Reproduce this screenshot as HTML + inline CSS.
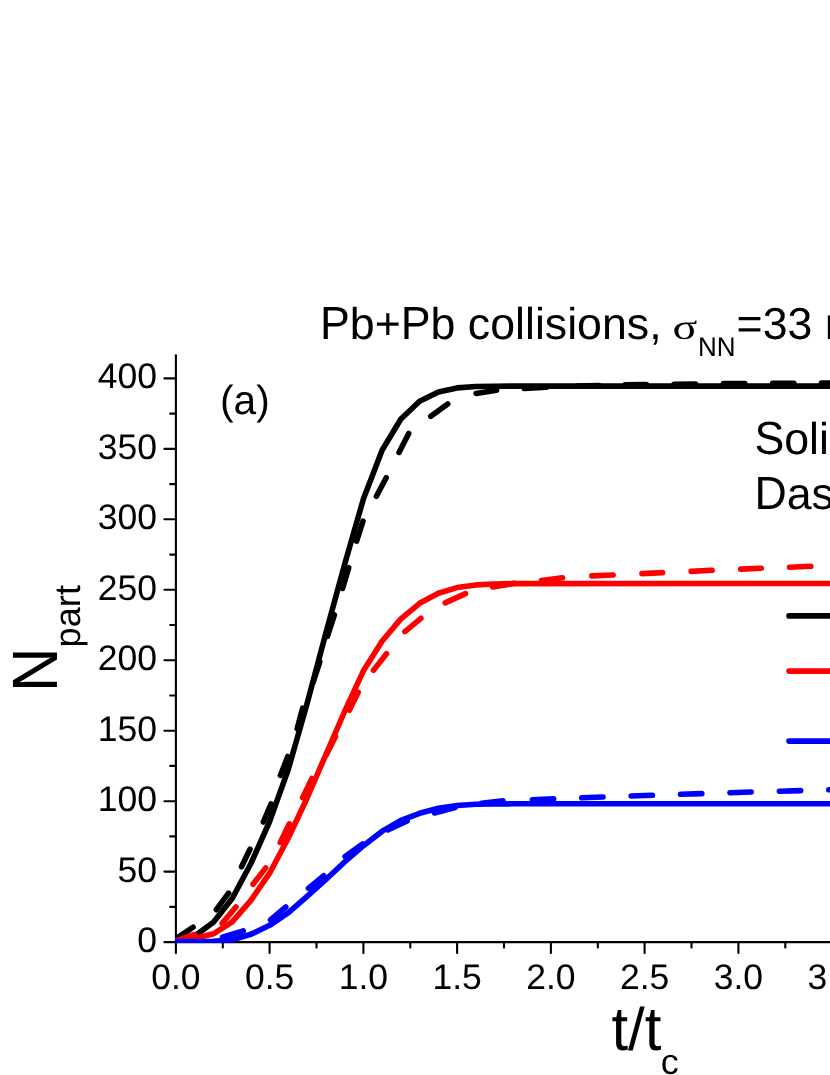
<!DOCTYPE html>
<html><head><meta charset="utf-8"><title>Npart vs t/tc</title>
<style>
html,body{margin:0;padding:0;background:#fff;}
body{width:830px;height:1075px;overflow:hidden;}
svg{display:block;will-change:transform;}
text{text-rendering:geometricPrecision;}
text{font-family:"Liberation Sans",sans-serif;fill:#000;}
.ser{font-family:"Liberation Serif",serif;}
</style></head><body>
<svg width="830" height="1075" viewBox="0 0 830 1075">
<rect x="0" y="0" width="830" height="1075" fill="#ffffff"/>
<defs><clipPath id="plot"><rect x="175.1" y="340" width="700" height="603"/></clipPath></defs>
<g stroke="#000" stroke-width="2.1" stroke-linecap="round" fill="none">
<line x1="175.9" y1="355.3" x2="175.9" y2="942.1"/>
<line x1="175.9" y1="942.1" x2="850" y2="942.1"/>
<line x1="164.4" y1="942.1" x2="175.9" y2="942.1"/>
<line x1="170.2" y1="906.9" x2="175.9" y2="906.9"/>
<line x1="164.4" y1="871.6" x2="175.9" y2="871.6"/>
<line x1="170.2" y1="836.4" x2="175.9" y2="836.4"/>
<line x1="164.4" y1="801.2" x2="175.9" y2="801.2"/>
<line x1="170.2" y1="765.9" x2="175.9" y2="765.9"/>
<line x1="164.4" y1="730.7" x2="175.9" y2="730.7"/>
<line x1="170.2" y1="695.5" x2="175.9" y2="695.5"/>
<line x1="164.4" y1="660.2" x2="175.9" y2="660.2"/>
<line x1="170.2" y1="625" x2="175.9" y2="625"/>
<line x1="164.4" y1="589.8" x2="175.9" y2="589.8"/>
<line x1="170.2" y1="554.6" x2="175.9" y2="554.6"/>
<line x1="164.4" y1="519.3" x2="175.9" y2="519.3"/>
<line x1="170.2" y1="484.1" x2="175.9" y2="484.1"/>
<line x1="164.4" y1="448.9" x2="175.9" y2="448.9"/>
<line x1="170.2" y1="413.6" x2="175.9" y2="413.6"/>
<line x1="164.4" y1="378.4" x2="175.9" y2="378.4"/>
<line x1="175.9" y1="942.1" x2="175.9" y2="953.1"/>
<line x1="222.8" y1="942.1" x2="222.8" y2="947.6"/>
<line x1="269.6" y1="942.1" x2="269.6" y2="953.1"/>
<line x1="316.5" y1="942.1" x2="316.5" y2="947.6"/>
<line x1="363.4" y1="942.1" x2="363.4" y2="953.1"/>
<line x1="410.3" y1="942.1" x2="410.3" y2="947.6"/>
<line x1="457.1" y1="942.1" x2="457.1" y2="953.1"/>
<line x1="504" y1="942.1" x2="504" y2="947.6"/>
<line x1="550.9" y1="942.1" x2="550.9" y2="953.1"/>
<line x1="597.8" y1="942.1" x2="597.8" y2="947.6"/>
<line x1="644.6" y1="942.1" x2="644.6" y2="953.1"/>
<line x1="691.5" y1="942.1" x2="691.5" y2="947.6"/>
<line x1="738.4" y1="942.1" x2="738.4" y2="953.1"/>
<line x1="785.3" y1="942.1" x2="785.3" y2="947.6"/>
<line x1="832.1" y1="942.1" x2="832.1" y2="953.1"/>
</g>
<g clip-path="url(#plot)" fill="none" stroke-width="5.6" stroke-linejoin="round">
<polyline points="169.9,939.7 175.9,938.8 194.7,936 213.4,922.3 232.2,898.5 250.9,863.5 269.6,821.5 288.4,769 307.1,703.5 325.9,633 344.6,564.5 363.4,499 382.2,450 400.9,419 419.6,401.2 438.4,392.1 457.1,387.9 475.9,386.5 494.7,386.2 513.4,386.1 845,386.1" stroke="#000000" stroke-linecap="butt"/>
<path d="M170 942.9L193 927.2M216.3 909.7L228.6 893.2M241.5 866.7L250 849.2M263.3 822L271.1 803.9M280.4 775.4L287.8 756.5M297.2 728.6L302.7 708.1M313.1 682.4L319.8 662M327.4 636.3L334.4 615M342.6 588.5L348.7 567.6M356.6 541.1L363 521.2M376.4 496.2L386.2 477.7M399 452.4L408.7 433.4M430.8 416.3L447.7 403.9M476.1 393.4L496.6 390.2M524.4 388.5L546.2 387.3M577.5 386L598.8 385.6M625 384.8L646.3 384.5M674.2 384.2L695.5 384M723.5 383.6L744.8 383.5M772.6 383.3L793.9 383.2M821.4 383L842.7 382.9" stroke="#000000" stroke-linecap="round"/>
<polyline points="169.9,941.5 175.9,940.8 194.7,938.5 213.4,933.8 232.2,921.9 250.9,900.4 269.6,873.2 288.4,837.7 307.1,798 325.9,754.6 344.6,711.5 363.4,670.8 382.2,641 400.9,618.9 419.6,603.3 438.4,593.2 457.1,587.6 475.9,584.9 494.7,584 513.4,583.6 845,583.5" stroke="#ff0000" stroke-linecap="butt"/>
<path d="M170 943L194.5 934.3M222.2 923.3L235.9 907M253 884.3L265.7 867.9M280.2 842.6L289.3 823.8M302.6 797.8L311.9 778.5M326.5 754.5L335.5 736.5M349.3 710.3L358.2 692.3M373.5 670.3L386.5 653.7M404.9 631.6L420.9 618.3M445.2 602.9L465.5 593.6M492.7 587L514.3 583.3M541.4 580.6L562.5 577.8M591.8 575.9L613.1 575M642 573.6L662.6 572.6M691.2 571.4L712.1 570.3M740.7 569.1L761.3 568.3M789.5 567.2L810.8 566.3" stroke="#ff0000" stroke-linecap="round"/>
<polyline points="169.9,941.5 175.9,941.5 194.7,941.5 213.4,941.2 232.2,939.8 250.9,934.3 269.6,925.3 288.4,912.7 307.1,896.4 325.9,879.5 344.6,862 363.4,845.7 382.2,831.2 400.9,820.4 419.6,813.3 438.4,808.2 457.1,805.5 475.9,804.3 494.7,804 513.4,803.8 845,803.8" stroke="#0000ff" stroke-linecap="butt"/>
<path d="M170 941.8L197 941.8M222.5 937.3L243.2 930.9M270.5 919.9L285.8 907M308.4 888.3L323.8 875.7M345.1 856.5L362.5 843.9M387.8 829.9L407.1 820.9M434.5 813L455 807.6M481.5 803.2L503 800.8M532.4 799.9L553.6 798.9M581.8 797.8L603 797M631.2 796L652.4 795.3M680.6 794.3L701.8 793.6M730 792.7L751.2 792M779.4 791.2L800.6 790.6M828.8 789.8L850 789.2" stroke="#0000ff" stroke-linecap="round"/>
</g>
<g stroke-width="5.6" stroke-linecap="round" fill="none">
<line x1="789" y1="615.9" x2="850" y2="615.9" stroke="#000"/>
<line x1="789" y1="671.1" x2="850" y2="671.1" stroke="#f00"/>
<line x1="789" y1="741.1" x2="850" y2="741.1" stroke="#00f"/>
</g>
<text transform="translate(320,338.7) scale(1,1.041)" font-size="44.7">P</text>
<text x="349.8" y="338.7" font-size="44.7">b+</text>
<text transform="translate(400.8,338.7) scale(1,1.041)" font-size="44.7">P</text>
<text x="430.6" y="338.7" font-size="44.7">b collisions,</text>
<text class="ser" transform="translate(672.6,338.9) scale(1.06,0.83)" font-size="43.5">σ</text>
<text transform="translate(698,355.8) scale(1,1.041)" font-size="26">NN</text>
<text x="736.6" y="338.8" font-size="44.7">=33 mb</text>
<text x="157" y="952.1" font-size="35.5" text-anchor="end">0</text>
<text x="157" y="881.6" font-size="35.5" text-anchor="end">50</text>
<text x="157" y="811.2" font-size="35.5" text-anchor="end">100</text>
<text x="157" y="740.7" font-size="35.5" text-anchor="end">150</text>
<text x="157" y="670.2" font-size="35.5" text-anchor="end">200</text>
<text x="157" y="599.8" font-size="35.5" text-anchor="end">250</text>
<text x="157" y="529.3" font-size="35.5" text-anchor="end">300</text>
<text x="157" y="458.9" font-size="35.5" text-anchor="end">350</text>
<text x="157" y="388.4" font-size="35.5" text-anchor="end">400</text>
<text x="175.9" y="988.7" font-size="35.5" text-anchor="middle">0.0</text>
<text x="269.6" y="988.7" font-size="35.5" text-anchor="middle">0.5</text>
<text x="363.4" y="988.7" font-size="35.5" text-anchor="middle">1.0</text>
<text x="457.1" y="988.7" font-size="35.5" text-anchor="middle">1.5</text>
<text x="550.9" y="988.7" font-size="35.5" text-anchor="middle">2.0</text>
<text x="644.6" y="988.7" font-size="35.5" text-anchor="middle">2.5</text>
<text x="738.4" y="988.7" font-size="35.5" text-anchor="middle">3.0</text>
<text x="832.1" y="988.7" font-size="35.5" text-anchor="middle">3.5</text>
<text x="220" y="413.9" font-size="40.7">(a)</text>
<text transform="translate(754.4,453.7) scale(1,1.041)" font-size="44.7">S</text>
<text x="784.2" y="453.7" font-size="44.7">olid line</text>
<text transform="translate(754.4,508.6) scale(1,1.041)" font-size="44.7">D</text>
<text x="786.7" y="508.6" font-size="44.7">ashed line</text>
<g transform="translate(56.9,692) rotate(-90)">
<text transform="translate(0,0) scale(1,1.041)" font-size="61.5">N</text>
<text x="44.6" y="23.1" font-size="36.2">part</text>
</g>
<text transform="translate(611.4,1049.9) scale(1,1.03)" font-size="60">t</text>
<text x="628.1" y="1049.9" font-size="60">/</text>
<text transform="translate(644.8,1049.9) scale(1,1.03)" font-size="60">t</text>
<text x="660.8" y="1073.6" font-size="36">c</text>
</svg>
</body></html>
